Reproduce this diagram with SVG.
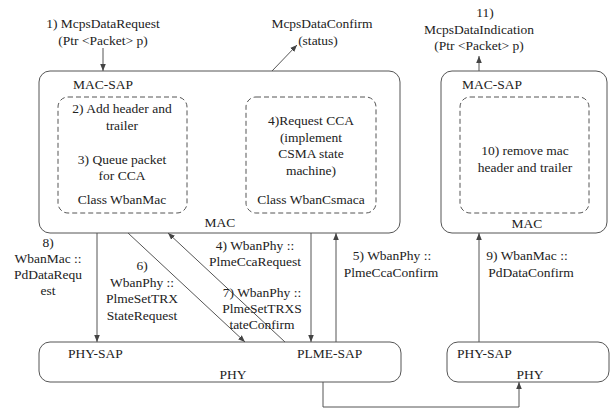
<svg xmlns="http://www.w3.org/2000/svg" width="613" height="410" viewBox="0 0 613 410">
<defs>
<marker id="ah" viewBox="0 0 10 10" refX="10" refY="5" markerWidth="7" markerHeight="7" markerUnits="userSpaceOnUse" orient="auto">
<path d="M0,1 L10,5 L0,9 Z" fill="#444"/>
</marker>
<style>
text{font-family:"Liberation Serif","Times New Roman",serif;font-size:13.5px;fill:#222;}
.m{text-anchor:middle;}
.box{fill:none;stroke:#555;stroke-width:1;}
.dash{fill:none;stroke:#555;stroke-width:1;stroke-dasharray:5,3;}
.c{fill:none;stroke:#555;stroke-width:1;marker-end:url(#ah);}
</style>
</defs>
<rect width="613" height="410" fill="#fff"/>

<g id="mac-left">
<rect class="box" x="39" y="71" width="361" height="162" rx="11"/>
<text x="73" y="89">MAC-SAP</text>
<text class="m" x="220" y="227">MAC</text>
</g>
<g id="wbanmac">
<rect class="dash" x="58" y="97" width="129" height="116" rx="10"/>
<text class="m" x="122" y="113">2) Add header and</text>
<text class="m" x="122" y="130">trailer</text>
<text class="m" x="122" y="164">3) Queue packet</text>
<text class="m" x="122" y="180">for CCA</text>
<text class="m" x="122" y="204">Class WbanMac</text>
</g>
<g id="wbancsmaca">
<rect class="dash" x="246" y="97" width="130" height="116" rx="10"/>
<text class="m" x="311" y="125">4)Request CCA</text>
<text class="m" x="311" y="142">(implement</text>
<text class="m" x="311" y="158">CSMA state</text>
<text class="m" x="311" y="175">machine)</text>
<text class="m" x="311" y="204">Class WbanCsmaca</text>
</g>
<g id="mac-right">
<rect class="box" x="441" y="71" width="166" height="162" rx="11"/>
<text x="462" y="89">MAC-SAP</text>
<text class="m" x="527" y="228">MAC</text>
</g>
<g id="remove-header">
<rect class="dash" x="460" y="97" width="129" height="116" rx="10"/>
<text class="m" x="525" y="155">10) remove mac</text>
<text class="m" x="525" y="172">header and trailer</text>
</g>
<g id="phy-left">
<rect class="box" x="39" y="342" width="362" height="40" rx="11"/>
<text x="68" y="358">PHY-SAP</text>
<text x="297" y="358">PLME-SAP</text>
<text class="m" x="233" y="379">PHY</text>
</g>
<g id="phy-right">
<rect class="box" x="447" y="342" width="162" height="40" rx="11"/>
<text x="457" y="358">PHY-SAP</text>
<text class="m" x="530" y="379">PHY</text>
</g>

<g id="connectors">
<line class="c" x1="103" y1="48" x2="103" y2="71"/>
<line class="c" x1="272" y1="71" x2="297" y2="45"/>
<line class="c" x1="479" y1="71" x2="479" y2="56"/>
<line class="c" x1="97" y1="233" x2="97" y2="342"/>
<line class="c" x1="128" y1="233" x2="245" y2="342"/>
<line class="c" x1="285" y1="342" x2="168" y2="233"/>
<line class="c" x1="311" y1="233" x2="311" y2="342"/>
<line class="c" x1="336" y1="342" x2="336" y2="233"/>
<line class="c" x1="479" y1="342" x2="479" y2="233"/>
<polyline class="c" points="323,382 323,407 519,407 519,382"/>
</g>

<g id="labels">
<text class="m" x="103" y="28">1) McpsDataRequest</text>
<text class="m" x="103" y="45">(Ptr &lt;Packet&gt; p)</text>
<text class="m" x="322" y="28">McpsDataConfirm</text>
<text class="m" x="318" y="45">(status)</text>
<text class="m" x="485" y="17">11)</text>
<text class="m" x="479" y="34">McpsDataIndication</text>
<text class="m" x="479" y="50">(Ptr &lt;Packet&gt; p)</text>
<text class="m" x="48" y="247">8)</text>
<text class="m" x="48" y="263">WbanMac ::</text>
<text class="m" x="48" y="279">PdDataRequ</text>
<text class="m" x="48" y="295">est</text>
<text class="m" x="142" y="270">6)</text>
<text class="m" x="142" y="287">WbanPhy ::</text>
<text class="m" x="142" y="303">PlmeSetTRX</text>
<text class="m" x="142" y="320">StateRequest</text>
<text class="m" x="255" y="250">4) WbanPhy ::</text>
<text class="m" x="255" y="266">PlmeCcaRequest</text>
<text class="m" x="262" y="297">7) WbanPhy ::</text>
<text class="m" x="262" y="313">PlmeSetTRXS</text>
<text class="m" x="262" y="329">tateConfirm</text>
<text class="m" x="392" y="260">5) WbanPhy ::</text>
<text class="m" x="391" y="277">PlmeCcaConfirm</text>
<text class="m" x="527" y="260">9) WbanMac ::</text>
<text class="m" x="531" y="277">PdDataConfirm</text>
</g>
</svg>
